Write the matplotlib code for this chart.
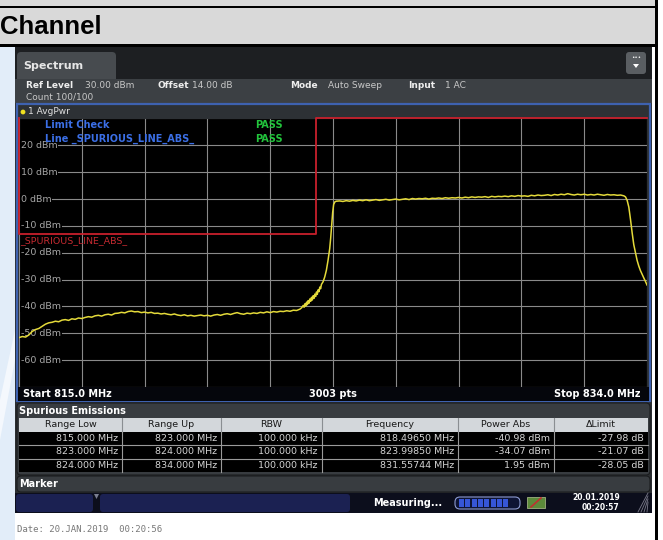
import matplotlib
matplotlib.use('Agg')
import matplotlib.pyplot as plt
from matplotlib.patches import Rectangle, FancyBboxPatch, Circle, Polygon
import numpy as np

# ---------------- data ----------------
f_start, f_stop = 815.0, 834.0
ref_level, bottom_level = 30.0, -70.0

freq_floor = [815.0, 815.1, 815.2, 815.3, 815.4, 815.5, 815.6, 815.7, 815.8, 815.9,
              816.0, 816.1, 816.2, 816.3, 816.4, 816.5, 816.6, 816.7, 816.8, 816.9,
              817.0, 817.1, 817.2, 817.3, 817.4, 817.5, 817.6, 817.7, 817.8, 817.9,
              818.0, 818.1, 818.2, 818.3, 818.4, 818.5, 818.6, 818.7, 818.8, 818.9,
              819.0, 819.1, 819.2, 819.3, 819.4, 819.5, 819.6, 819.7, 819.8, 819.9,
              820.0, 820.1, 820.2, 820.3, 820.4, 820.5, 820.6, 820.7, 820.8, 820.9,
              821.0, 821.1, 821.2, 821.3, 821.4, 821.5, 821.6, 821.7, 821.8, 821.9,
              822.0, 822.1, 822.2, 822.3, 822.4, 822.5, 822.6, 822.7, 822.8, 822.9,
              823.0, 823.1, 823.2, 823.3, 823.4, 823.5, 823.55]
level_floor = [-51.6, -51.2, -51.4, -50.6, -49.3, -48.6, -48.2, -47.4, -46.6, -46.1,
               -45.9, -45.5, -45.7, -45.1, -44.9, -45.2, -44.6, -44.8, -44.3, -44.5,
               -44.1, -43.8, -44.0, -43.5, -43.3, -43.6, -43.1, -42.9, -43.2, -42.6,
               -42.5, -42.2, -42.4, -41.9, -41.7, -42.0, -41.9, -42.3, -42.1, -42.4,
               -42.2, -42.6, -42.5, -42.8, -42.6, -42.9, -43.1, -42.8, -43.2, -43.4,
               -43.1, -43.5, -43.3, -43.6, -43.4, -43.2, -43.5, -43.3, -43.6, -43.2,
               -43.0, -43.3, -42.9, -42.7, -43.0, -42.6, -42.3, -42.7, -42.9, -42.5,
               -42.7, -42.4, -42.6, -42.2, -42.4, -42.0, -42.3, -41.9, -42.1, -41.8,
               -41.9, -41.6, -41.8, -41.4, -41.5, -41.0, -40.5]

freq_rise = [823.6, 823.625, 823.65, 823.675, 823.7, 823.725, 823.75, 823.775, 823.8,
             823.825, 823.85, 823.875, 823.9, 823.925, 823.95, 823.975, 824.0, 824.025,
             824.05, 824.075, 824.1, 824.125, 824.15, 824.2, 824.25, 824.3, 824.35,
             824.4, 824.43, 824.46, 824.49, 824.52, 824.56, 824.6]
level_rise = [-39.6, -40.3, -39.0, -39.9, -38.4, -39.3, -37.8, -38.8, -37.2,
              -38.1, -36.6, -37.6, -36.0, -37.0, -35.4, -36.3, -34.6, -35.5,
              -33.8, -34.5, -32.8, -33.4, -31.8, -30.8, -29.0, -26.5, -22.8,
              -18.5, -14.5, -10.0, -5.0, -2.0, -1.0, -0.8]

freq_band = [824.7, 824.8, 824.9, 825.0, 825.1, 825.2, 825.3, 825.4, 825.5, 825.6,
             825.7, 825.8, 825.9, 826.0, 826.1, 826.2, 826.3, 826.4, 826.5, 826.6,
             826.7, 826.8, 826.9, 827.0, 827.1, 827.2, 827.3, 827.4, 827.5, 827.6,
             827.7, 827.8, 827.9, 828.0, 828.1, 828.2, 828.3, 828.4, 828.5, 828.6,
             828.7, 828.8, 828.9, 829.0, 829.1, 829.2, 829.3, 829.4, 829.5, 829.6,
             829.7, 829.8, 829.9, 830.0, 830.1, 830.2, 830.3, 830.4, 830.5, 830.6,
             830.7, 830.8, 830.9, 831.0, 831.1, 831.2, 831.3, 831.4, 831.5, 831.6,
             831.7, 831.8, 831.9, 832.0, 832.1, 832.2, 832.3, 832.4, 832.5, 832.6,
             832.7, 832.8, 832.9, 833.0, 833.1, 833.2, 833.3, 833.35]
level_band = [-0.7, -0.9, -0.6, -0.8, -0.5, -0.7, -0.4, -0.6, -0.3, -0.6,
              -0.4, -0.2, -0.5, -0.3, -0.1, -0.4, -0.2, 0.0, -0.3, -0.1,
              0.1, -0.2, 0.2, 0.0, 0.2, 0.1, 0.3, 0.0, 0.3, 0.2,
              0.4, 0.2, 0.5, 0.3, 0.5, 0.4, 0.6, 0.4, 0.7, 0.5,
              0.8, 0.6, 0.8, 0.7, 0.9, 0.6, 1.0, 0.8, 1.0, 0.9,
              1.1, 0.9, 1.2, 1.0, 1.3, 1.1, 1.2, 1.0, 1.4, 1.2,
              1.5, 1.3, 1.4, 1.6, 1.3, 1.7, 1.5, 1.8, 1.6, 2.0,
              1.7, 1.5, 1.8, 1.6, 1.8, 1.5, 1.7, 1.5, 1.8, 1.6,
              1.4, 1.7, 1.5, 1.6, 1.4, 1.5, 1.2, 0.8]

freq_fall = [833.4, 833.45, 833.5, 833.55, 833.6, 833.65, 833.7, 833.75, 833.8,
             833.85, 833.9, 833.95, 834.0]
level_fall = [-0.5, -3.0, -7.5, -12.5, -17.0, -20.0, -22.8, -24.9, -26.6,
              -28.0, -29.3, -30.6, -32.0]

limit_freq = [815.0, 815.0, 824.0, 824.0, 834.0]
limit_dbm = [30.0, -13.0, -13.0, 30.0, 30.0]

y_tick_values = [20, 10, 0, -10, -20, -30, -40, -50, -60]
y_tick_labels = ['20 dBm', '10 dBm', '0 dBm', '-10 dBm', '-20 dBm',
                 '-30 dBm', '-40 dBm', '-50 dBm', '-60 dBm']

table_header = ['Range Low', 'Range Up', 'RBW', 'Frequency', 'Power Abs', '\u0394Limit']
range_low = ['815.000 MHz', '823.000 MHz', '824.000 MHz']
range_up = ['823.000 MHz', '824.000 MHz', '834.000 MHz']
rbw = ['100.000 kHz', '100.000 kHz', '100.000 kHz']
peak_freq = ['818.49650 MHz', '823.99850 MHz', '831.55744 MHz']
power_abs = ['-40.98 dBm', '-34.07 dBm', '1.95 dBm']
delta_limit = ['-27.98 dB', '-21.07 dB', '-28.05 dB']

# ---------------- figure ----------------
W, H, DPI = 663, 540, 100
fig = plt.figure(figsize=(W / DPI, H / DPI), dpi=DPI)
fig.patch.set_facecolor('white')

bg = fig.add_axes([0, 0, 1, 1], zorder=0)
bg.set_xlim(0, W); bg.set_ylim(H, 0); bg.axis('off')
fg = fig.add_axes([0, 0, 1, 1], zorder=3)
fg.set_xlim(0, W); fg.set_ylim(H, 0); fg.axis('off')
fg.patch.set_alpha(0)

UI = 'DejaVu Sans'


def rect(ax, x0, y0, x1, y1, fc, ec='none', lw=0, r=0, z=1):
    if r:
        p = FancyBboxPatch((x0, y0), x1 - x0, y1 - y0,
                           boxstyle=f"round,pad=0,rounding_size={r}",
                           fc=fc, ec=ec, lw=lw, zorder=z)
    else:
        p = Rectangle((x0, y0), x1 - x0, y1 - y0, fc=fc, ec=ec, lw=lw, zorder=z)
    ax.add_patch(p)
    return p


def txt(ax, x, y, s, size=7, color='white', weight='normal', ha='left',
        va='center', family=UI, z=5):
    ax.text(x, y, s, fontsize=size, color=color, fontweight=weight, ha=ha,
            va=va, family=family, zorder=z)


# page decorations
rect(bg, 0, 47, 15, H, '#e2edf9')
bg.add_patch(Polygon([[0, 400], [15, 330], [15, 360], [0, 440]], closed=True,
                     fc='#f4f8fd', ec='none', zorder=1))
rect(bg, 0, 0, 657, 45, '#d9d9d9')
rect(bg, 0, 6, 657, 8, 'black', z=2)
rect(bg, 0, 44, 657, 46.5, 'black', z=2)
rect(bg, 655, 0, 658, H, 'black', z=2)
txt(bg, 0, 27.5, 'Channel', size=18.5, color='black', weight='bold',
    family='Liberation Sans')

# instrument body
rect(bg, 15, 47, 652, 513, '#2b2e31')
rect(bg, 15, 47, 652, 79, '#1d1f22')
rect(bg, 17, 52, 116, 84, '#474b4f', r=4, z=2)
txt(bg, 23, 66, 'Spectrum', size=8, color='#e6e6e6', weight='bold', z=4)
rect(bg, 626, 52, 646, 74, '#5a5e62', r=3, z=2)
txt(bg, 636, 58, '\u2022\u2022\u2022', size=4, color='white', ha='center', z=4)
bg.add_patch(Polygon([[633, 64], [639, 64], [636, 68]], closed=True, fc='white',
                     ec='none', zorder=4))
rect(bg, 15, 79, 652, 103, '#3c4044', z=3)
hdr = [(26, 'Ref Level', 'bold'), (85, '30.00 dBm', 'normal'),
       (157, 'Offset', 'bold'), (192, '14.00 dB', 'normal'),
       (290, 'Mode', 'bold'), (328, 'Auto Sweep', 'normal'),
       (408, 'Input', 'bold'), (445, '1 AC', 'normal')]
for x, s, w in hdr:
    txt(bg, x, 86, s, size=6.5, color='#eeeeee' if w == 'bold' else '#c8c8c8',
        weight=w, z=4)
txt(bg, 26, 97, 'Count 100/100', size=6.5, color='#c8c8c8', z=4)

# diagram frame
rect(bg, 17, 103.5, 650, 401, '#2d3135', ec='#3e62b0', lw=1.6, z=3)
bg.add_patch(Circle((23, 112), 2.4, fc='#f0e020', ec='none', zorder=5))
txt(bg, 27.5, 112, '1 AvgPwr', size=6.5, color='#e0e0e0', z=5)
rect(bg, 18, 387, 649, 400.5, '#05060c', z=4)
txt(bg, 23, 394, 'Start 815.0 MHz', size=7, color='white', weight='bold', z=5)
txt(bg, 333, 394, '3003 pts', size=7, color='white', weight='bold', ha='center', z=5)
txt(bg, 640, 394, 'Stop 834.0 MHz', size=7, color='white', weight='bold', ha='right', z=5)

# Spurious emissions panel
rect(bg, 17, 403, 650, 475, '#383c40', ec='#1a1c1e', lw=0.8, r=4, z=3)
txt(bg, 19, 410.5, 'Spurious Emissions', size=7, color='white', weight='bold', z=5)
col_edges = [19, 122, 221, 322, 458, 554, 648]
row_edges = [418, 431.5, 445, 458.5, 472]
rect(bg, col_edges[0], row_edges[0], col_edges[-1], row_edges[1], '#d3d7db', z=4)
rect(bg, col_edges[0], row_edges[1], col_edges[-1], row_edges[-1], '#000000', z=4)
for x in col_edges[1:-1]:
    bg.plot([x, x], [row_edges[0], row_edges[1]], color='#8a8e92', lw=0.8, zorder=5)
    bg.plot([x, x], [row_edges[1], row_edges[-1]], color='#9a9a9a', lw=0.8, zorder=5)
for y in row_edges[2:-1]:
    bg.plot([col_edges[0], col_edges[-1]], [y, y], color='#9a9a9a', lw=0.8, zorder=5)
for i, h in enumerate(table_header):
    cx = (col_edges[i] + col_edges[i + 1]) / 2
    txt(bg, cx, (row_edges[0] + row_edges[1]) / 2, h, size=6.8, color='#1a1a1a',
        ha='center', z=6)
columns = [range_low, range_up, rbw, peak_freq, power_abs, delta_limit]
for j, col in enumerate(columns):
    for i, s in enumerate(col):
        cy = (row_edges[i + 1] + row_edges[i + 2]) / 2
        txt(bg, col_edges[j + 1] - 4, cy, s, size=6.8, color='#d4d4d4', ha='right', z=6)

# Marker panel
rect(bg, 17, 476, 650, 492, '#383c40', ec='#1a1c1e', lw=0.8, r=4, z=3)
txt(bg, 19, 484, 'Marker', size=7, color='white', weight='bold', z=5)

# status bar
rect(bg, 15, 493, 652, 513, '#0c0e1c', z=3)
rect(bg, 16, 494, 93, 512, '#1b2152', r=3, z=4)
rect(bg, 100, 494, 350, 512, '#1b2152', r=3, z=4)
bg.add_patch(Polygon([[94, 494], [99, 494], [96.5, 499]], closed=True,
                     fc='#7a7e90', ec='none', zorder=5))
txt(bg, 373, 503, 'Measuring...', size=7, color='white', weight='bold', z=5)
rect(bg, 455, 497, 520, 509, '#0e1434', ec='#8c9ad0', lw=0.8, r=5, z=5)
for k in range(8):
    rect(bg, 459 + k * 6.3, 499, 464 + k * 6.3, 507, '#3656d8', z=6)
rect(bg, 527, 497, 545, 508, '#5c8a3a', ec='#a0b080', lw=0.6, z=5)
bg.plot([531, 541], [507, 498], color='#c03030', lw=1.2, zorder=6)
txt(bg, 596, 497.5, '20.01.2019', size=5.5, color='white', weight='bold', ha='center', z=5)
txt(bg, 600, 507.5, '00:20:57', size=5.5, color='white', weight='bold', ha='center', z=5)
for k in range(4):
    bg.plot([638 + k * 3, 648], [512, 502 + k * 3 - 9], color='#7a7a8a', lw=0.6, zorder=6)

txt(bg, 17, 530, 'Date: 20.JAN.2019  00:20:56', size=6.5, color='#787878',
    family='DejaVu Sans Mono')

# ---------------- spectrum plot ----------------
px0, px1, py0, py1 = 19, 647, 118.5, 387
ax = fig.add_axes([px0 / W, (H - py1) / H, (px1 - px0) / W, (py1 - py0) / H], zorder=2)
ax.set_facecolor('black')
ax.set_xlim(f_start, f_stop)
ax.set_ylim(bottom_level, ref_level)
ax.set_xticks(np.linspace(f_start, f_stop, 11))
ax.set_yticks(np.arange(bottom_level, ref_level + 1, 10))
ax.grid(True, color='#8a8a8a', lw=0.8)
ax.tick_params(length=0, labelbottom=False, labelleft=False)
for s in ax.spines.values():
    s.set_visible(False)

for v, lab in zip(y_tick_values, y_tick_labels):
    ax.text(f_start + 0.06, v, lab, fontsize=6.8, color='#a6a6a6', va='center',
            ha='left', family=UI, zorder=3,
            bbox=dict(fc='black', ec='none', pad=0.6))

ax.plot(limit_freq, limit_dbm, color='#c8202c', lw=1.3, zorder=4, clip_on=False)
ax.text(f_start + 0.02, -15.6, '_SPURIOUS_LINE_ABS_', fontsize=6.8, color='#c42a30',
        va='center', ha='left', family=UI, zorder=4)

trace_f = freq_floor + freq_rise + freq_band + freq_fall
trace_l = level_floor + level_rise + level_band + level_fall
ax.plot(trace_f, trace_l, color='#e4da3a', lw=1.1, zorder=5)

# overlay texts inside the diagram
txt(fg, 45, 125, 'Limit Check', size=7, color='#3b6fe6', weight='bold', z=6)
txt(fg, 45, 138.5, 'Line _SPURIOUS_LINE_ABS_', size=7, color='#3b6fe6', weight='bold', z=6)
txt(fg, 255, 125, 'PASS', size=7, color='#22c43c', weight='bold', z=6)
txt(fg, 255, 138.5, 'PASS', size=7, color='#22c43c', weight='bold', z=6)

fig.savefig('out.png', dpi=DPI, facecolor='white')
